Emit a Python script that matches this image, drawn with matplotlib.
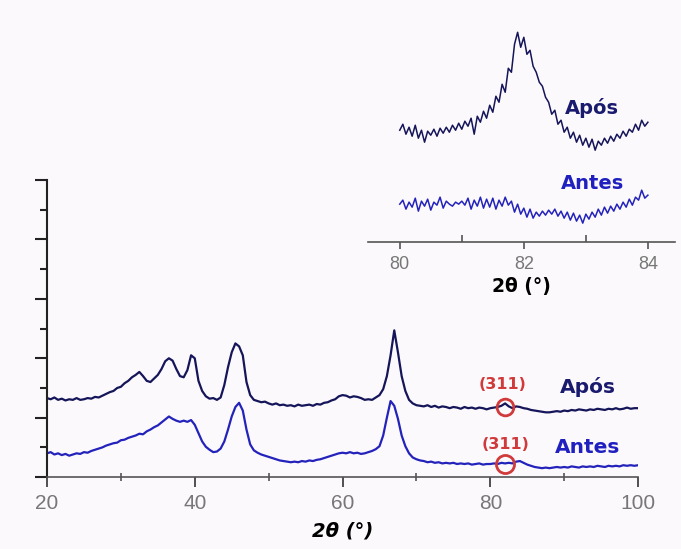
import numpy as np
import matplotlib
matplotlib.use('Agg')
import matplotlib.pyplot as plt

# main pattern, 2theta from 20 to 100 in 0.5 steps
two_theta = np.arange(20, 100.01, 0.5)
apos = [1.33, 1.31, 1.34, 1.30, 1.32, 1.29, 1.31, 1.30, 1.33, 1.30,
        1.31, 1.33, 1.32, 1.35, 1.34, 1.37, 1.40, 1.43, 1.45, 1.50,
        1.52, 1.58, 1.62, 1.68, 1.72, 1.77, 1.70, 1.62, 1.60, 1.66,
        1.72, 1.82, 1.95, 2.00, 1.96, 1.82, 1.70, 1.68, 1.80, 2.05,
        2.00, 1.62, 1.45, 1.36, 1.32, 1.33, 1.30, 1.34, 1.55, 1.85,
        2.10, 2.25, 2.20, 2.05, 1.60, 1.38, 1.30, 1.28, 1.26, 1.27,
        1.24, 1.22, 1.24, 1.21, 1.22, 1.20, 1.21, 1.19, 1.22, 1.20,
        1.21, 1.22, 1.20, 1.23, 1.22, 1.25, 1.26, 1.29, 1.31, 1.36,
        1.38, 1.37, 1.34, 1.36, 1.35, 1.33, 1.30, 1.31, 1.30, 1.34,
        1.38, 1.48, 1.70, 2.05, 2.47, 2.10, 1.70, 1.45, 1.30, 1.24,
        1.21, 1.20, 1.19, 1.21, 1.18, 1.20, 1.17, 1.19, 1.18, 1.16,
        1.18, 1.17, 1.15, 1.18, 1.16, 1.17, 1.15, 1.17, 1.16, 1.14,
        1.16, 1.17, 1.18, 1.20, 1.24, 1.19, 1.16, 1.19, 1.18, 1.16,
        1.15, 1.13, 1.12, 1.11, 1.10, 1.09, 1.09, 1.10, 1.11, 1.10,
        1.12, 1.11, 1.13, 1.12, 1.14, 1.13, 1.12, 1.14, 1.13, 1.15,
        1.14, 1.13, 1.15, 1.14, 1.16, 1.14, 1.15, 1.17, 1.15, 1.16,
        1.16]
antes = [0.40, 0.42, 0.38, 0.40, 0.37, 0.39, 0.36, 0.38, 0.40, 0.39,
         0.42, 0.41, 0.44, 0.46, 0.48, 0.50, 0.53, 0.55, 0.57, 0.58,
         0.62, 0.63, 0.66, 0.68, 0.70, 0.73, 0.72, 0.77, 0.80, 0.84,
         0.87, 0.92, 0.97, 1.02, 0.98, 0.95, 0.93, 0.95, 0.93, 0.96,
         0.88, 0.74, 0.60, 0.51, 0.46, 0.42, 0.43, 0.48, 0.60, 0.80,
         1.02, 1.18, 1.25, 1.12, 0.80, 0.55, 0.45, 0.41, 0.38, 0.36,
         0.34, 0.32, 0.30, 0.28, 0.27, 0.26, 0.25, 0.26, 0.25, 0.27,
         0.26, 0.28, 0.27, 0.29, 0.30, 0.32, 0.34, 0.36, 0.38, 0.40,
         0.41, 0.40, 0.42, 0.40, 0.41, 0.39, 0.40, 0.42, 0.44, 0.47,
         0.52, 0.70, 1.00, 1.28, 1.20, 0.98, 0.70, 0.52, 0.40, 0.33,
         0.30, 0.28, 0.27, 0.25, 0.26, 0.24, 0.25, 0.23, 0.24, 0.23,
         0.24, 0.22, 0.23, 0.22, 0.23, 0.21, 0.22, 0.23, 0.21, 0.22,
         0.22, 0.23, 0.22, 0.24, 0.23, 0.24, 0.23, 0.26, 0.27, 0.24,
         0.21, 0.19, 0.17, 0.16, 0.15, 0.16, 0.15, 0.16, 0.17, 0.16,
         0.17, 0.16, 0.18, 0.17, 0.16, 0.18, 0.17, 0.18, 0.17, 0.19,
         0.18, 0.17, 0.19, 0.18, 0.19, 0.18, 0.20, 0.19, 0.20, 0.19,
         0.20]

# zoom on the (311) reflection, 80-84 in 0.05 steps
zoom_theta = np.arange(80, 84.001, 0.05)
apos_zoom = [112, 118, 108, 115, 106, 117, 104, 112, 100, 111,
             107, 113, 106, 114, 109, 115, 110, 117, 112, 119,
             113, 121, 116, 124, 108, 126, 120, 131, 124, 137,
             130, 146, 140, 158, 150, 174, 170, 198, 210, 195,
             205, 188, 192, 176, 170, 160, 156, 145, 140, 128,
             132, 118, 122, 110, 115, 104, 110, 100, 107, 97,
             104, 95, 103, 92, 101, 97, 104, 99, 106, 101,
             108, 104, 111, 106, 113, 110, 118, 112, 122, 116,
             120]
antes_zoom = [38, 42, 33, 40, 35, 44, 31, 41, 36, 43,
              32, 40, 37, 45, 34, 41, 38, 36, 40, 38,
              41, 37, 44, 33, 42, 36, 45, 34, 43, 35,
              44, 33, 42, 36, 45, 37, 41, 30, 38, 28,
              34, 25, 33, 24, 30, 26, 31, 27, 32, 28,
              33, 26, 31, 24, 30, 22, 29, 21, 27, 19,
              28, 23, 30, 25, 33, 27, 35, 29, 36, 31,
              38, 33, 40, 35, 43, 37, 45, 42, 52, 44,
              47]

c_apos = '#15155a'
c_antes = '#2323bb'
c_red = '#d03a3a'
c_tick = '#777777'
bg = '#fcf9fc'

plt.rcParams['font.family'] = ['Liberation Sans', 'DejaVu Sans']
lab = ['DejaVu Sans']  # wider bold face for the labels

fig = plt.figure(figsize=(6.81, 5.49), dpi=100, facecolor=bg)

# main chart
ax = fig.add_axes([0.069, 0.131, 0.868, 0.541])
ax.set_facecolor(bg)
ax.plot(two_theta, apos, color=c_apos, lw=1.6)
ax.plot(two_theta, antes, color=c_antes, lw=1.6)
ax.set_xlim(20, 100)
ax.set_ylim(0, 5)
for s in ['top', 'right']:
    ax.spines[s].set_visible(False)
ax.spines['left'].set_color('#222222')
ax.spines['left'].set_linewidth(1.5)
ax.spines['bottom'].set_color('#555555')
ax.spines['bottom'].set_linewidth(1.2)
ax.set_xticks([20, 40, 60, 80, 100])
ax.set_xticks([30, 50, 70, 90], minor=True)
ax.set_yticks([0, 1, 2, 3, 4, 5])
ax.set_yticks([0.5, 1.5, 2.5, 3.5, 4.5], minor=True)
ax.set_yticklabels([])
ax.tick_params(axis='y', which='major', direction='out', length=9, width=1.5, color='#222222')
ax.tick_params(axis='y', which='minor', direction='out', length=5, width=1.5, color='#222222')
ax.tick_params(axis='x', which='major', direction='out', length=7, width=1.2, color='#333333',
               labelsize=15, labelcolor=c_tick, pad=5)
ax.tick_params(axis='x', which='minor', direction='inout', length=6, width=1.2, color='#555555')
ax.set_xlabel('2θ (°)', fontsize=14, fontweight='bold', style='italic', family=lab, labelpad=6)

ax.text(93.2, 1.52, 'Após', color='#1a1a6e', fontsize=14.5, fontweight='bold', family=lab,
        ha='center', va='center')
ax.text(93.1, 0.49, 'Antes', color='#2020c0', fontsize=14.5, fontweight='bold', family=lab,
        ha='center', va='center')
ax.text(81.7, 1.56, '(311)', color=c_red, fontsize=11.5, fontweight='bold', family=lab,
        ha='center', va='center')
ax.text(82.0, 0.55, '(311)', color=c_red, fontsize=11.5, fontweight='bold', family=lab,
        ha='center', va='center')
ax.plot([82.0], [1.18], 'o', ms=12, mfc='none', mec=c_red, mew=2)
ax.plot([82.0], [0.22], 'o', ms=13, mfc='none', mec=c_red, mew=2)

# inset
ins = fig.add_axes([0.540, 0.559, 0.451, 0.404])
ins.patch.set_alpha(0)
ins.plot(zoom_theta, apos_zoom, color=c_apos, lw=1.1)
ins.plot(zoom_theta, antes_zoom, color=c_antes, lw=1.1)
ins.set_xlim(79.484, 84.435)
ins.set_ylim(0, 222)
for s in ['top', 'right', 'left']:
    ins.spines[s].set_visible(False)
ins.spines['bottom'].set_color('#555555')
ins.spines['bottom'].set_linewidth(1.2)
ins.set_yticks([])
ins.set_xticks([80, 82, 84])
ins.set_xticks([81, 83], minor=True)
ins.tick_params(axis='x', which='major', direction='out', length=5, width=1.2, color='#555555',
                labelsize=13, labelcolor=c_tick, pad=5)
ins.tick_params(axis='x', which='minor', direction='in', length=5, width=1.2, color='#555555')
ins.set_xlabel('2θ (°)', fontsize=13.5, fontweight='bold', family=lab, labelpad=3)
ins.text(83.1, 134, 'Após', color='#1a1a6e', fontsize=14, fontweight='bold', family=lab,
         ha='center', va='center')
ins.text(83.1, 59, 'Antes', color='#2020c0', fontsize=14, fontweight='bold', family=lab,
         ha='center', va='center')

fig.savefig('out.png', dpi=100, facecolor=bg)
